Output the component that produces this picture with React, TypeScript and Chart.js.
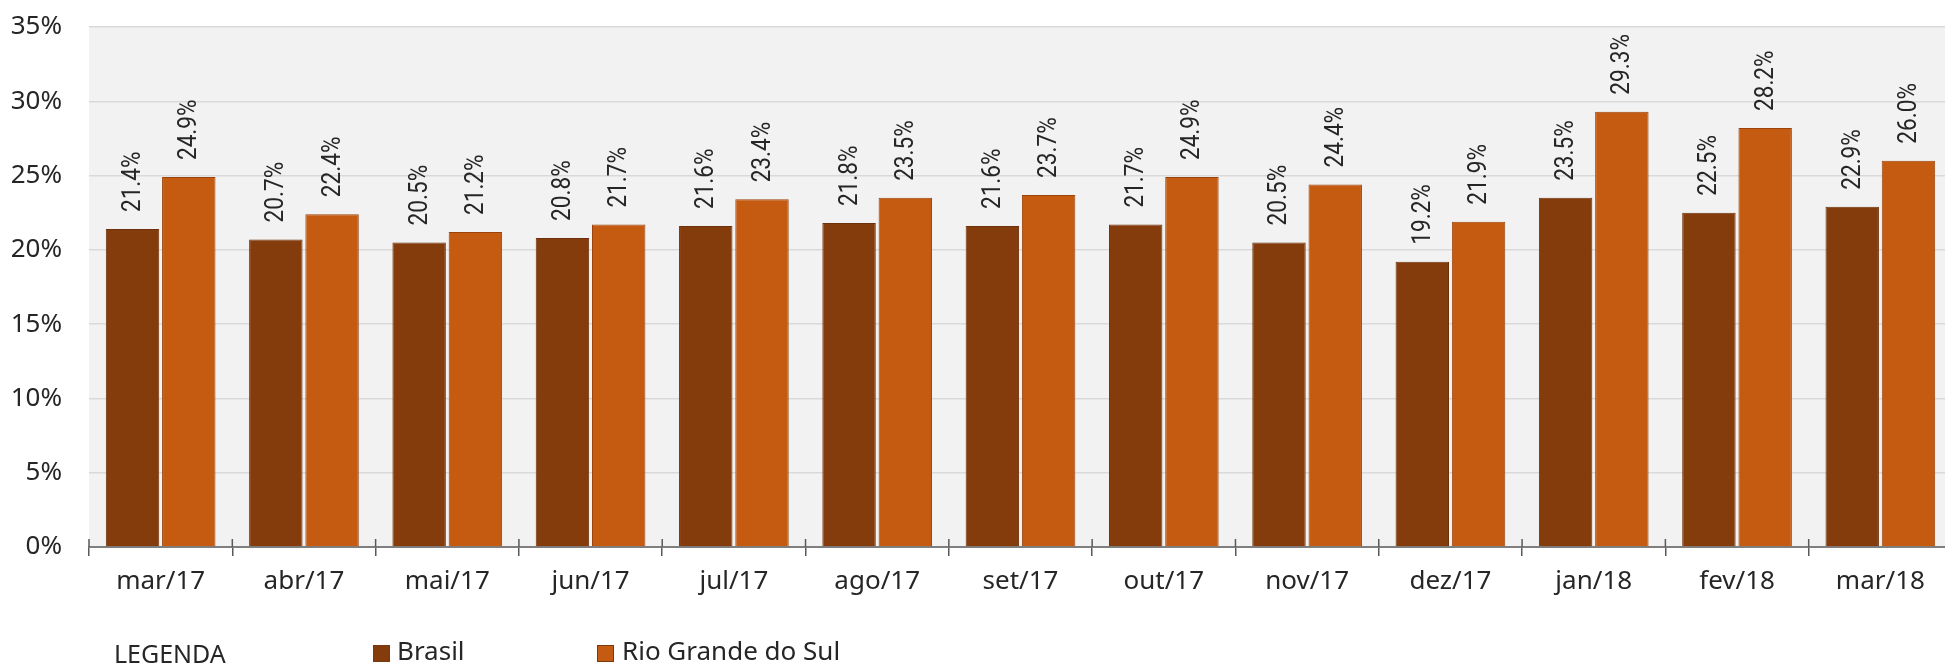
import React, { useEffect, useRef } from "react";
import { Chart, registerables } from "chart.js";

Chart.register(...registerables);

const categories = ["mar/17", "abr/17", "mai/17", "jun/17", "jul/17", "ago/17", "set/17", "out/17", "nov/17", "dez/17", "jan/18", "fev/18", "mar/18"];
const brasil = [21.4, 20.7, 20.5, 20.8, 21.6, 21.8, 21.6, 21.7, 20.5, 19.2, 23.5, 22.5, 22.9];
const rioGrandeDoSul = [24.9, 22.4, 21.2, 21.7, 23.4, 23.5, 23.7, 24.9, 24.4, 21.9, 29.3, 28.2, 26.0];
const seriesNames = ["Brasil", "Rio Grande do Sul"];
const legendTitle = "LEGENDA";

const COLORS = ["#843C0C", "#C55A11"];
const FONT = "'Noto Sans', sans-serif";
const TEXT = "#262626";

const W = 1952;
const H = 665;

function pickLabelFont(): { family: string; scaleX: number } {
  const c = document.createElement("canvas").getContext("2d") as CanvasRenderingContext2D;
  const s = "0123456789%.abcXYZ";
  c.font = "40px monospace";
  const a = c.measureText(s).width;
  c.font = "40px 'Liberation Sans Narrow', monospace";
  const b = c.measureText(s).width;
  if (Math.abs(a - b) > 0.5) return { family: "'Liberation Sans Narrow'", scaleX: 1 };
  return { family: "Roboto, 'Noto Sans', sans-serif", scaleX: 0.87 };
}

const bgPlugin = {
  id: "bg",
  beforeDraw(chart: any) {
    const { ctx, chartArea } = chart;
    ctx.save();
    ctx.fillStyle = "#F2F2F2";
    ctx.fillRect(chartArea.left, chartArea.top, chartArea.right - chartArea.left, chartArea.bottom - chartArea.top);
    ctx.restore();
  },
};

const extrasPlugin = {
  id: "extras",
  afterDraw(chart: any) {
    const { ctx, chartArea } = chart;
    const lf = pickLabelFont();
    ctx.save();
    // tick marks above axis
    ctx.strokeStyle = "#595959";
    ctx.lineWidth = 1.5;
    const n = categories.length;
    for (let i = 0; i <= n; i++) {
      const px = chartArea.left + ((chartArea.right - chartArea.left) * i) / n;
      ctx.beginPath();
      ctx.moveTo(px, chartArea.bottom - 8);
      ctx.lineTo(px, chartArea.bottom);
      ctx.stroke();
    }
    // data labels
    ctx.fillStyle = TEXT;
    ctx.font = `26px ${lf.family}`;
    ctx.textAlign = "left";
    ctx.textBaseline = "middle";
    chart.data.datasets.forEach((ds: any, di: number) => {
      const meta = chart.getDatasetMeta(di);
      meta.data.forEach((bar: any, i: number) => {
        const v = ds.data[i];
        ctx.save();
        ctx.translate(bar.x, bar.y - 17);
        ctx.rotate(-Math.PI / 2);
        ctx.scale(lf.scaleX, 1);
        ctx.fillText(v.toFixed(1) + "%", 0, 1);
        ctx.restore();
      });
    });
    // legend
    ctx.textBaseline = "alphabetic";
    ctx.fillStyle = TEXT;
    ctx.font = `25px ${FONT}`;
    ctx.fillText(legendTitle, 114, 663);
    const items = [
      { x: 373, tx: 397 },
      { x: 597, tx: 622 },
    ];
    items.forEach((it, i) => {
      ctx.fillStyle = COLORS[i];
      ctx.fillRect(it.x, 645, 17, 17);
      ctx.strokeStyle = "#7a3a10";
      ctx.lineWidth = 1;
      ctx.strokeRect(it.x + 0.5, 645.5, 16, 16);
      ctx.fillStyle = TEXT;
      ctx.font = `26px ${FONT}`;
      ctx.fillText(seriesNames[i], it.tx, 660);
    });
    ctx.restore();
  },
};

export default function App() {
  const ref = useRef<HTMLCanvasElement | null>(null);
  useEffect(() => {
    document.body.style.margin = "0";
    document.body.style.overflow = "hidden";
    const chart = new Chart(ref.current as HTMLCanvasElement, {
      type: "bar",
      data: {
        labels: categories,
        datasets: [
          {
            label: seriesNames[0],
            data: brasil,
            backgroundColor: COLORS[0],
            borderColor: "#6e300a",
            borderWidth: 1,
            barPercentage: 0.95,
            categoryPercentage: 0.785,
          },
          {
            label: seriesNames[1],
            data: rioGrandeDoSul,
            backgroundColor: COLORS[1],
            borderColor: "#9a440c",
            borderWidth: 1,
            barPercentage: 0.95,
            categoryPercentage: 0.785,
          },
        ],
      },
      options: {
        responsive: false,
        animation: false,
        devicePixelRatio: 1,
        layout: { padding: { top: 27, left: 0, right: 0, bottom: 0 } },
        plugins: { legend: { display: false }, tooltip: { enabled: false } },
        scales: {
          x: {
            grid: {
              display: true,
              drawOnChartArea: false,
              drawTicks: true,
              offset: true,
              tickLength: 9,
              color: "#595959",
              lineWidth: 1.5,
            },
            border: { display: true, color: "#7F7F7F", width: 2 },
            ticks: { color: TEXT, font: { family: FONT, size: 26 }, padding: 10, maxRotation: 0 },
            afterFit(scale: any) {
              scale.height = H - 547;
              scale.paddingLeft = 0;
              scale.paddingRight = 0;
            },
          },
          y: {
            min: 0,
            max: 35,
            grid: { color: "#D9D9D9", lineWidth: 1.5, drawTicks: false },
            border: { display: false },
            ticks: {
              stepSize: 5,
              color: TEXT,
              padding: 27,
              font: { family: FONT, size: 26 },
              callback: (v: any) => `${v}%`,
            },
            afterFit(scale: any) {
              scale.width = 89;
              scale.paddingTop = 0;
              scale.paddingBottom = 0;
            },
          },
        },
      },
      plugins: [bgPlugin, extrasPlugin],
    });
    return () => chart.destroy();
  }, []);
  return (
    <div style={{ width: W, height: H, position: "relative", overflow: "hidden" }}>
      <canvas ref={ref} width={W} height={H} style={{ display: "block" }} />
    </div>
  );
}
